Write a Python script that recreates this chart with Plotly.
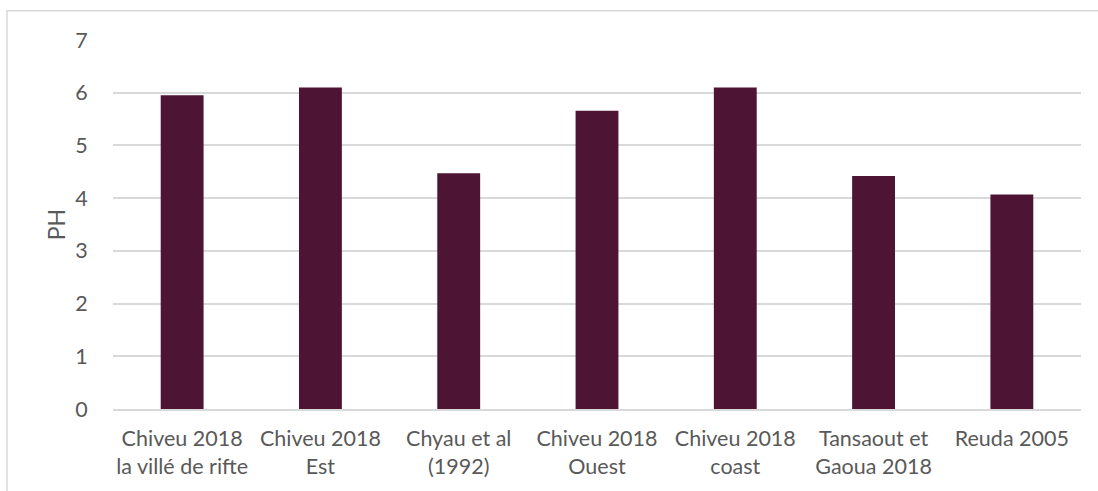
import plotly.graph_objects as go

# Soil pH by study
categories = [
    "Chiveu 2018<br>la villé de rifte",
    "Chiveu 2018<br>Est",
    "Chyau et al<br>(1992)",
    "Chiveu 2018<br>Ouest",
    "Chiveu 2018<br>coast",
    "Tansaout et<br>Gaoua 2018",
    "Reuda 2005",
]
ph_values = [5.95, 6.1, 4.47, 5.66, 6.1, 4.42, 4.07]
y_ticks = [0, 1, 2, 3, 4, 5, 6, 7]

font_family = "Lato, 'Open Sans', sans-serif"
text_color = "#595959"
grid_color = "#d9d9d9"
label_size = 21.5

fig = go.Figure(
    go.Bar(
        x=categories,
        y=ph_values,
        marker=dict(color="#4d1533", line=dict(width=0)),
        hoverinfo="x+y",
    )
)

fig.update_layout(
    width=1098,
    height=491,
    margin=dict(l=113, r=17, t=40, b=82),
    paper_bgcolor="white",
    plot_bgcolor="white",
    bargap=0.69,
    showlegend=False,
    font=dict(family=font_family, size=label_size, color=text_color),
    shapes=[
        dict(
            type="rect",
            xref="paper",
            yref="paper",
            x0=-0.1095,
            x1=1.05,
            y0=-0.3,
            y1=1.0793,
            line=dict(color="#d9d9d9", width=1.5),
            fillcolor="rgba(0,0,0,0)",
            layer="below",
        )
    ],
)

fig.update_xaxes(
    showgrid=False,
    showline=True,
    linecolor=grid_color,
    linewidth=1.5,
    ticks="outside",
    ticklen=9,
    tickcolor="rgba(0,0,0,0)",
    tickfont=dict(size=label_size, color=text_color),
    tickangle=0,
)

fig.update_yaxes(
    range=[0, 7],
    tickvals=y_ticks,
    ticktext=[str(v) for v in y_ticks],
    showgrid=True,
    gridcolor=grid_color,
    gridwidth=1.5,
    zeroline=False,
    showline=False,
    ticks="outside",
    ticklen=20,
    tickcolor="rgba(0,0,0,0)",
    tickfont=dict(size=label_size, color=text_color),
    title=dict(text="PH", font=dict(size=23, color=text_color), standoff=3),
)

fig.write_html("out.html")
